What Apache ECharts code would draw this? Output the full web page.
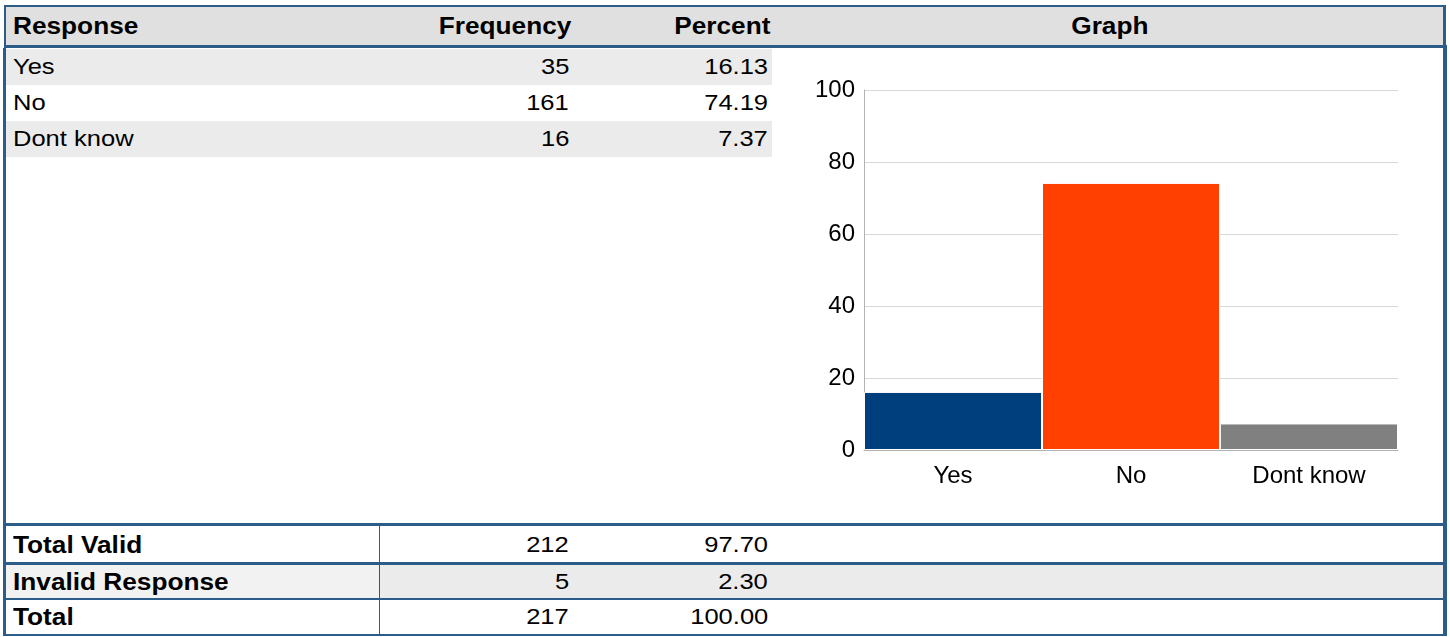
<!DOCTYPE html>
<html>
<head>
<meta charset="utf-8">
<script src="https://cdn.jsdelivr.net/npm/echarts@6/dist/echarts.min.js"></script>
<style>
  html, body { margin:0; padding:0; background:#fff; }
  #wrap { position:relative; width:1450px; height:637px; overflow:hidden; font-family:'Liberation Sans', Arial, sans-serif; color:#000; }
  .ln { position:absolute; background:#2c5d89; }
  .bg { position:absolute; }
  .txt { position:absolute; white-space:nowrap; }
  .txt span { display:inline-block; }
</style>
</head>
<body>
<div id="wrap"></div>
<script>
// ---- data ----
const headers = ['Response', 'Frequency', 'Percent', 'Graph'];
const categories = ['Yes', 'No', 'Dont know'];
const frequencies = [35, 161, 16];
const percents = [16.13, 74.19, 7.37];
const summaryLabels = ['Total Valid', 'Invalid Response', 'Total'];
const summaryFreq = [212, 5, 217];
const summaryPct = [97.70, 2.30, 100.00];
const barColors = ['#003f7d', '#ff4000', '#808080'];
const yMin = 0, yMax = 100, yInterval = 20;

const wrap = document.getElementById('wrap');
function box(cls, l, t, w, h, color) {
  const d = document.createElement('div');
  d.className = cls;
  d.style.left = l + 'px'; d.style.top = t + 'px';
  d.style.width = w + 'px'; d.style.height = h + 'px';
  if (color) d.style.background = color;
  wrap.appendChild(d);
  return d;
}
function text(str, x, cy, align, bold, size) {
  const d = document.createElement('div');
  d.className = 'txt';
  const h = 30;
  d.style.top = (cy - h / 2) + 'px';
  d.style.height = h + 'px';
  d.style.lineHeight = h + 'px';
  d.style.fontSize = size + 'px';
  d.style.fontWeight = bold ? 'bold' : 'normal';
  const s = document.createElement('span');
  s.textContent = str;
  s.style.transform = 'scaleX(' + (bold ? 1.14 : 1.16) + ')';
  if (align === 'left') { d.style.left = x + 'px'; s.style.transformOrigin = 'left center'; }
  else if (align === 'right') { d.style.right = (1450 - x) + 'px'; s.style.transformOrigin = 'right center'; }
  else { d.style.left = (x - 200) + 'px'; d.style.width = '400px'; d.style.textAlign = 'center'; s.style.transformOrigin = 'center center'; }
  d.appendChild(s);
  wrap.appendChild(d);
}

// header
box('bg', 6, 7, 1437, 38, '#e0e0e0');
// data rows backgrounds (alternating)
const rowTop = 49, rowH = 36;
categories.forEach((c, i) => {
  if (i % 2 === 0) box('bg', 6, rowTop + i * rowH, 766, rowH, '#ebebeb');
});
// summary row backgrounds
box('bg', 6, 565, 373, 33, '#f2f2f2');
box('bg', 380, 565, 1063, 33, '#ebebeb');

// borders
box('ln', 4, 5, 1442, 2);
box('ln', 4, 5, 2, 42);
box('ln', 1443, 5, 3, 42);
box('ln', 4, 45, 1443, 3);
box('ln', 3, 48, 3, 588);
box('ln', 1443, 48, 4, 588);
box('ln', 3, 523, 1444, 3);
box('ln', 3, 562, 1444, 3);
box('ln', 3, 598, 1444, 2);
box('ln', 3, 634, 1444, 2);
box('ln', 379, 526, 1, 108);

// header text
const hy = 26;
text(headers[0], 13, hy, 'left', true, 23);
text(headers[1], 571, hy, 'right', true, 23);
text(headers[2], 770, hy, 'right', true, 23);
text(headers[3], 1110, hy, 'center', true, 23);

// data rows text
categories.forEach((c, i) => {
  const cy = rowTop + i * rowH + rowH / 2;
  text(c, 13, cy, 'left', false, 22);
  text(String(frequencies[i]), 569, cy, 'right', false, 22);
  text(percents[i].toFixed(2), 768, cy, 'right', false, 22);
});

// summary rows text
const sumCenters = [545, 582, 617];
summaryLabels.forEach((lab, i) => {
  const cy = sumCenters[i];
  text(lab, 13, cy, 'left', true, 23);
  text(String(summaryFreq[i]), 569, cy, 'right', false, 22);
  text(summaryPct[i].toFixed(2), 768, cy, 'right', false, 22);
});

// chart
const cdiv = document.createElement('div');
cdiv.style.position = 'absolute';
cdiv.style.left = '780px'; cdiv.style.top = '50px';
cdiv.style.width = '662px'; cdiv.style.height = '470px';
wrap.appendChild(cdiv);
const chart = echarts.init(cdiv, null, { renderer: 'canvas' });
chart.setOption({
  animation: false,
  grid: { left: 84, right: 44, top: 40, bottom: 70, containLabel: false },
  xAxis: {
    type: 'category',
    data: categories,
    axisLine: { show: true, lineStyle: { color: '#b3b3b3', width: 1 } },
    axisTick: { show: false },
    axisLabel: { color: '#000', fontSize: 24, margin: 14, fontFamily: 'Liberation Sans, Arial, sans-serif' }
  },
  yAxis: {
    type: 'value',
    min: yMin, max: yMax, interval: yInterval,
    axisLine: { show: true, lineStyle: { color: '#b3b3b3', width: 1 } },
    axisTick: { show: false },
    splitLine: { show: true, lineStyle: { color: '#d9d9d9', width: 1 } },
    axisLabel: { color: '#000', fontSize: 24, margin: 9, padding: [4, 0, 0, 0], fontFamily: 'Liberation Sans, Arial, sans-serif' }
  },
  series: [{
    type: 'bar',
    barCategoryGap: '0%',
    data: percents.map((v, i) => ({ value: v, itemStyle: { color: barColors[i] } })),
    itemStyle: { borderColor: '#ffffff', borderWidth: 1 }
  }]
});
</script>
</body>
</html>
